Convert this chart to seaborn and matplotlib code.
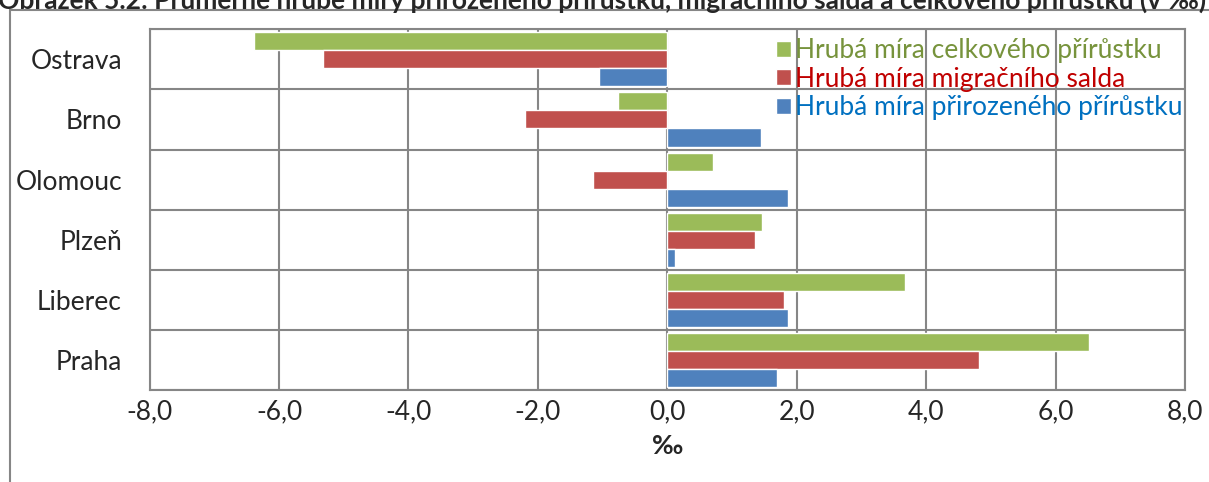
import pandas as pd
import matplotlib.pyplot as plt
import seaborn as sns
from matplotlib.patches import Rectangle
from matplotlib.ticker import FuncFormatter, MultipleLocator

cities = ['Ostrava', 'Brno', 'Olomouc', 'Plzeň', 'Liberec', 'Praha']
series = ['Hrubá míra celkového přírůstku',
          'Hrubá míra migračního salda',
          'Hrubá míra přirozeného přírůstku']
celkovy = [-6.38, -0.76, 0.70, 1.47, 3.67, 6.51]
migracni = [-5.32, -2.20, -1.15, 1.36, 1.80, 4.82]
prirozeny = [-1.05, 1.45, 1.86, 0.12, 1.87, 1.70]
bar_colors = ['#9BBB59', '#C0504D', '#4F81BD']
text_colors = ['#77933C', '#C00000', '#0070C0']
title = 'Obrázek 5.2: Průměrné hrubé míry přirozeného přírůstku, migračního salda a celkového přírůstku (v ‰)'

df = pd.DataFrame({'mesto': cities * 3,
                   'serie': [s for s in series for _ in cities],
                   'hodnota': celkovy + migracni + prirozeny})

sns.set_style('white')
plt.rcParams['font.family'] = ['Lato', 'DejaVu Sans']

fig = plt.figure(figsize=(12.09, 4.82), dpi=100)
ax = fig.add_axes([0.1238, 0.1909, 0.8563, 0.7483])

sns.barplot(data=df, y='mesto', x='hodnota', hue='serie', hue_order=series,
            order=cities, palette=bar_colors, orient='h', width=0.9,
            saturation=1, ax=ax, zorder=3)

grid_c = '#868686'
ax.set_xlim(-8, 8)
ax.set_ylim(5.5, -0.5)
ax.xaxis.set_major_locator(MultipleLocator(2))
ax.xaxis.set_major_formatter(FuncFormatter(lambda v, p: f'{v:.1f}'.replace('.', ',')))
ax.set_yticks([i + 0.5 for i in range(-1, 6)], minor=True)
ax.grid(True, axis='x', which='major', color=grid_c, lw=1.5, zorder=1)
ax.grid(True, axis='y', which='minor', color=grid_c, lw=1.5, zorder=1)
ax.set_axisbelow(True)
for s in ax.spines.values():
    s.set_color(grid_c)
    s.set_linewidth(1.5)
ax.tick_params(axis='x', which='major', length=7, width=1.5, color=grid_c,
               labelsize=19, pad=0)
ax.tick_params(axis='y', which='minor', length=0)
ax.tick_params(axis='y', which='major', length=0, labelsize=19, pad=20)
ax.set_ylabel('')
ax.set_xlabel('‰', fontsize=19, fontweight='bold', labelpad=7)

leg = ax.legend(loc='upper right', bbox_to_anchor=(1.0126, 1.02), frameon=False,
                fontsize=19, handlelength=0.55, handleheight=0.55,
                handletextpad=0.15, labelspacing=0.14, borderaxespad=0.2)
for txt, c in zip(leg.get_texts(), text_colors):
    txt.set_color(c)

fig.add_artist(Rectangle((10 / 1209, -0.1), 1.2, 1.0 - 9.5 / 482 + 0.1,
                         transform=fig.transFigure, fill=False,
                         edgecolor=grid_c, lw=1.5))
fig.text(-0.002, 1.0, title, ha='left', va='center', fontsize=19,
         fontweight='bold')

fig.savefig('out.png', dpi=100)
